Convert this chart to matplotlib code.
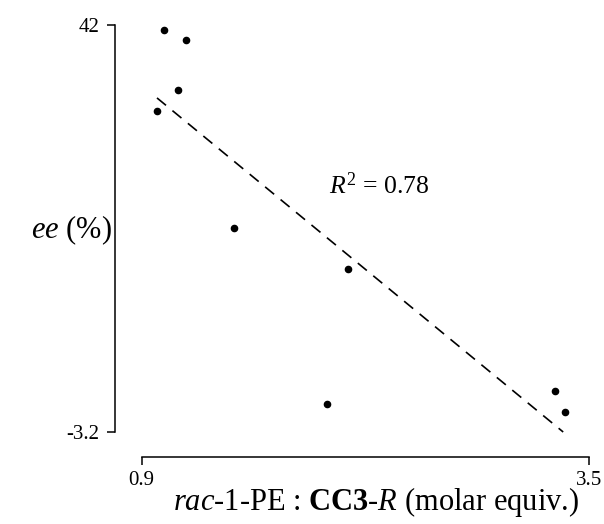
import numpy as np
import matplotlib
matplotlib.use('Agg')
import matplotlib.pyplot as plt

plt.rcParams['font.family'] = ['Liberation Serif', 'DejaVu Serif']
plt.rcParams['mathtext.fontset'] = 'custom'
plt.rcParams['mathtext.rm'] = 'Liberation Serif'
plt.rcParams['mathtext.it'] = 'Liberation Serif:italic'
plt.rcParams['mathtext.bf'] = 'Liberation Serif:bold'

# molar equivalents of rac-1-PE vs ee (%)
equiv = [1.03, 1.16, 1.11, 0.99, 1.44, 2.10, 1.98, 3.30, 3.36]
ee = [41.4, 40.3, 34.8, 32.5, 19.5, 14.9, -0.1, 1.3, -1.0]

# trend line ends
trend_x = [0.99, 3.35]
trend_y = [33.9, -3.2]

x_ticks = [0.9, 3.5]
y_ticks = [42, -3.2]

W, H = 604, 524
fig = plt.figure(figsize=(W / 100, H / 100), dpi=100)
ax = fig.add_axes([114.5 / W, 1 - 457 / H, (589 - 114.5) / W, (457 - 25) / H])

ax.scatter(equiv, ee, s=20, color='black', zorder=3)
ax.plot(trend_x, trend_y, color='black', lw=1.2, linestyle=(0, (7, 5)))

ax.set_xlim(0.9 - 27 / 172.1, 3.5)
ax.set_ylim(-3.2 - 25 / 9.004, 42)

for s in ['top', 'right']:
    ax.spines[s].set_visible(False)
ax.spines['left'].set_bounds(-3.2, 42)
ax.spines['bottom'].set_bounds(0.9, 3.5)
for s in ['left', 'bottom']:
    ax.spines[s].set_linewidth(1.1)

ax.set_xticks(x_ticks)
ax.set_xticklabels(['0.9', '3.5'])
ax.set_yticks(y_ticks)
ax.set_yticklabels(['42', '-3.2'])
ax.tick_params(length=6, width=1.1, labelsize=15)
ax.tick_params(axis='y', pad=5)
ax.tick_params(axis='x', pad=4)

ax.text(1.99, 24.2, r'$R^2$ = 0.78', fontsize=18.5, va='center', ha='left')

ax.set_ylabel(r'$\mathit{ee}$ (%)', fontsize=22, rotation=0, ha='right', va='center')
ax.yaxis.set_label_coords(-0.005, 0.525)
ax.set_xlabel(r'$\mathit{rac}$-1-PE : $\mathbf{CC3}$-$\mathit{R}$ (molar equiv.)',
              fontsize=22, va='baseline')
ax.xaxis.set_label_coords(0.552, -0.123)

fig.savefig('out.png', dpi=100)
